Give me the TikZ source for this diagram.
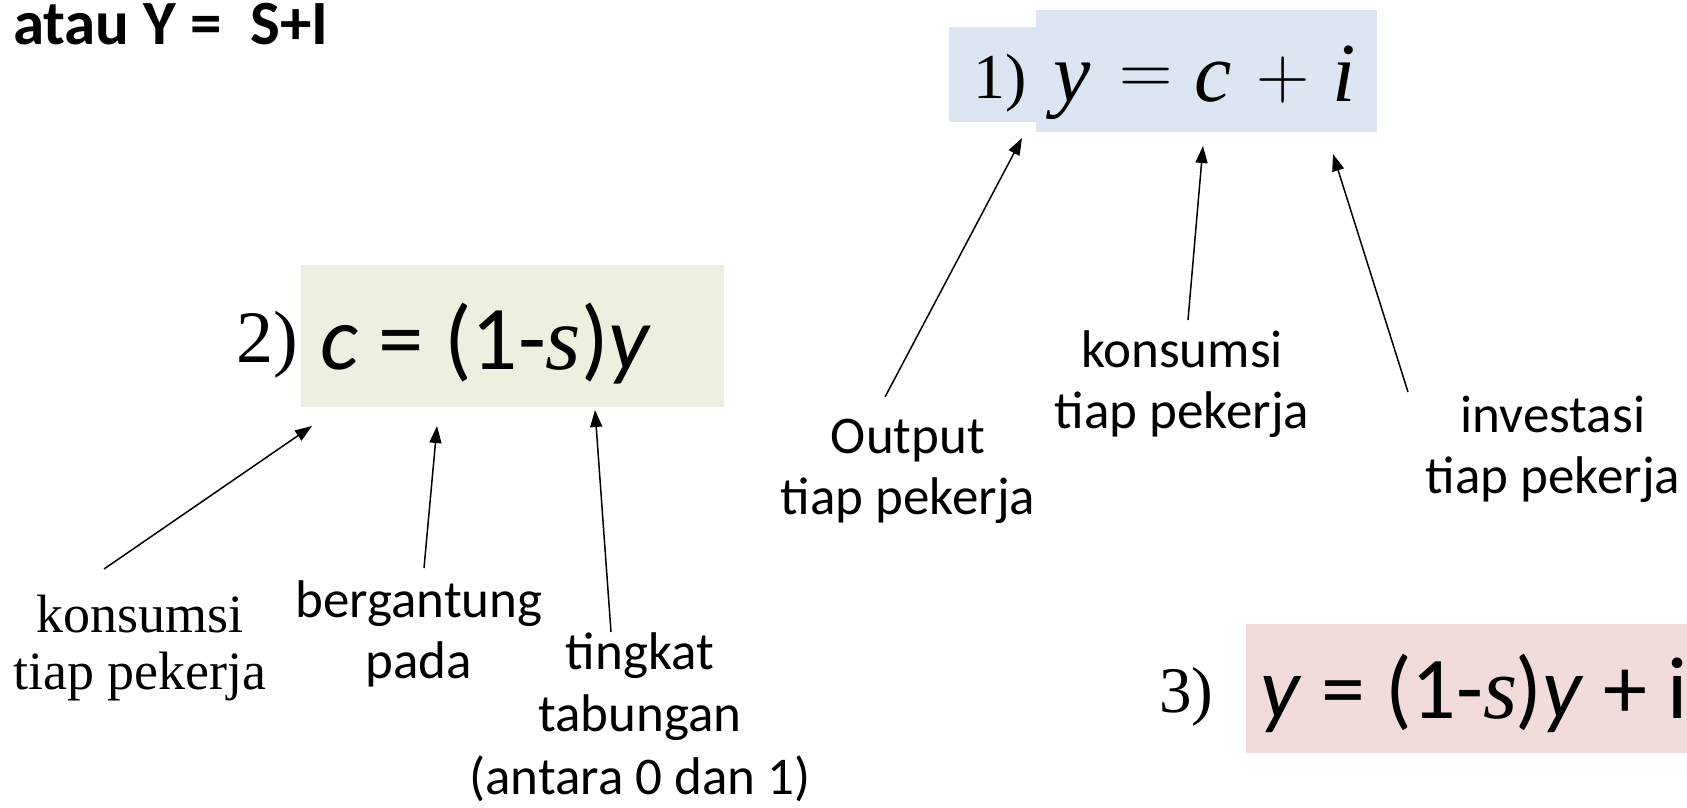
\RequirePackage{fix-cm}
\documentclass[tikz,border=0pt]{standalone}
\usepackage[no-math]{fontspec}
\setmainfont{Carlito}
\newfontfamily\tnr{Liberation Serif}
\usetikzlibrary{arrows.meta}

\definecolor{boxblue}{RGB}{220,230,242}
\definecolor{boxgreen}{RGB}{235,241,222}
\definecolor{boxpink}{RGB}{242,220,219}

\newcommand\sz[2]{\fontsize{#1}{#2}\selectfont}
% place a glyph at a horizontal offset (pt) without taking width
\newcommand\glat[2]{\rlap{\hspace*{#1pt}#2}}

\begin{document}
\begin{tikzpicture}[x=1pt,y=-1pt,
  txt/.style={inner sep=0pt, outer sep=0pt},
  calib/.style={txt, align=center, font=\sz{53}{61}},
  times/.style={txt, align=center, font=\tnr\sz{54}{57}},
  pointer/.style={line width=1.5pt, -{Triangle[length=17pt,width=12pt]}},
]
\useasboundingbox (0,0) rectangle (1687,807);
\clip (0,0) rectangle (1687,807);

% heading
\node[txt, anchor=base west, font=\bfseries\sz{63}{63}] (title) at (13,44) {atau Y =\ \ S+I};

% equation 1: y = c + i
\fill[boxblue] (949,27) rectangle (1040,122);
\fill[boxblue] (1036,10) rectangle (1377,132);
\node[txt, anchor=base west, font=\tnr\sz{64}{64}] (numone) at (973,98) {1)};
\node[txt, anchor=base west, font=\tnr\itshape\sz{84}{84}] (eqone) at (1053,101)
  {\makebox[300pt][l]{\glat{0}{y}%
   \glat{66}{\raisebox{7pt}{\sz{74}{74}$=$}}%
   \glat{141}{c}%
   \glat{203}{\raisebox{3pt}{\sz{74}{74}$+$}}%
   \glat{279}{i}}};

% equation 2: c = (1-s)y
\fill[boxgreen] (301,265) rectangle (724,407);
\node[txt, anchor=base west, font=\tnr\sz{74}{74}] (numtwo) at (236,362) {2)};
\node[txt, anchor=base west, font=\sz{91}{91}] (eqtwo) at (320,369)
  {\textit{c} = (1-{\tnr\itshape s})\textit{y}};

% equation 3: y = (1-s)y + i
\fill[boxpink] (1246,624) rectangle (1700,753);
\node[txt, anchor=base west, font=\tnr\sz{65}{65}] (numthree) at (1159,712) {3)};
\node[txt, anchor=base west, font=\sz{88}{88}] (eqthree) at (1260,718)
  {\textit{y} = (1-{\tnr\itshape s}\kern-2pt)\textit{y} + i};

% labels under equation 1 (node base = last line)
\node[calib, anchor=base] (lout) at (908,514) {Output\\tiap pekerja};
\node[calib, anchor=base] (lkon) at (1182,428) {konsumsi\\tiap pekerja};
\node[calib, anchor=base] (linv) at (1553,493) {investasi\\tiap pekerja};

% labels under equation 2
\node[times, anchor=base] (lkons) at (140,689) {konsumsi\\tiap pekerja};
\node[calib, anchor=base] (lberg) at (419,678) {bergantung\\pada};
\node[calib, anchor=base, font=\sz{53}{62.5}] (ltab) at (640,794) {tingkat\\tabungan\\(antara 0 dan 1)};

% arrow end points
\coordinate (aoutS) at (885,397);  \coordinate (aoutE) at (1022,138);
\coordinate (akonS) at (1188,320); \coordinate (akonE) at (1203,146);
\coordinate (ainvS) at (1408,392); \coordinate (ainvE) at (1333,154);
\coordinate (bkonS) at (104,569);  \coordinate (bkonE) at (312,426);
\coordinate (bbrgS) at (424,568);  \coordinate (bbrgE) at (437,426);
\coordinate (btabS) at (611,632);  \coordinate (btabE) at (595,410);

\draw[pointer] (aoutS) -- (aoutE);
\draw[pointer] (akonS) -- (akonE);
\draw[pointer] (ainvS) -- (ainvE);
\draw[pointer] (bkonS) -- (bkonE);
\draw[pointer] (bbrgS) -- (bbrgE);
\draw[pointer] (btabS) -- (btabE);
\end{tikzpicture}
\end{document}
